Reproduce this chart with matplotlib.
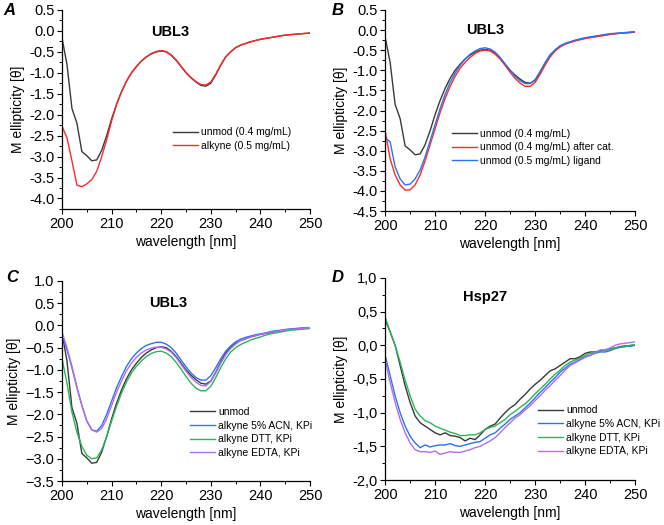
import numpy as np
import matplotlib
matplotlib.use("Agg")
import matplotlib.pyplot as plt
from matplotlib.ticker import MultipleLocator, FuncFormatter

plt.rcParams['font.family'] = ['Liberation Sans', 'DejaVu Sans']

wl = np.arange(200, 251)

# common tail 236..250 for UBL3 curves
tail = [-0.34, -0.30, -0.26, -0.23, -0.20, -0.18, -0.16, -0.14, -0.12, -0.10, -0.09, -0.08, -0.07, -0.06, -0.05]

# panel A / B / C : UBL3 unmodified (0.4 mg/mL)
ubl3_unmod = [-0.17, -0.80, -1.85, -2.20, -2.88, -2.98, -3.10, -3.08, -2.85, -2.50,
              -2.10, -1.75, -1.45, -1.20, -1.00, -0.85, -0.72, -0.62, -0.55, -0.50,
              -0.48, -0.50, -0.58, -0.70, -0.85, -1.00, -1.12, -1.22, -1.30, -1.32,
              -1.25, -1.05, -0.82, -0.62, -0.50, -0.40] + tail
# panel A : alkyne (0.5 mg/mL)
ubl3_alkyne = [-2.28, -2.55, -3.10, -3.68, -3.72, -3.65, -3.55, -3.35, -3.00, -2.60,
               -2.15, -1.76, -1.45, -1.20, -1.00, -0.85, -0.72, -0.62, -0.54, -0.49,
               -0.47, -0.49, -0.57, -0.69, -0.84, -0.99, -1.11, -1.21, -1.28, -1.29,
               -1.22, -1.03, -0.81, -0.62, -0.50, -0.40] + tail
# panel B
ubl3_aftercat = [-2.50, -3.20, -3.60, -3.85, -3.98, -3.97, -3.85, -3.60, -3.25, -2.85,
                 -2.45, -2.05, -1.70, -1.40, -1.15, -0.95, -0.80, -0.68, -0.58, -0.52,
                 -0.50, -0.52, -0.60, -0.72, -0.88, -1.05, -1.20, -1.32, -1.40, -1.40,
                 -1.30, -1.10, -0.87, -0.67, -0.52, -0.42,
                 -0.35, -0.31, -0.27, -0.24, -0.21, -0.19, -0.17, -0.15, -0.13, -0.11,
                 -0.09, -0.08, -0.07, -0.06, -0.05]
ubl3_ligand = [-2.68, -2.78, -3.40, -3.70, -3.85, -3.83, -3.70, -3.48, -3.15, -2.75,
               -2.35, -1.95, -1.60, -1.30, -1.07, -0.88, -0.72, -0.60, -0.52, -0.46,
               -0.44, -0.47, -0.55, -0.68, -0.84, -1.00, -1.15, -1.26, -1.33, -1.33,
               -1.23, -1.03, -0.81, -0.62, -0.49, -0.39,
               -0.33, -0.29, -0.25, -0.22, -0.19, -0.17, -0.15, -0.13, -0.11, -0.09,
               -0.08, -0.07, -0.06, -0.05, -0.04]
# panel C
ubl3_acn = [-0.20, -0.55, -0.95, -1.40, -1.80, -2.15, -2.35, -2.38, -2.25, -2.00,
            -1.70, -1.40, -1.15, -0.92, -0.75, -0.62, -0.52, -0.45, -0.41, -0.38,
            -0.38, -0.42, -0.50, -0.62, -0.78, -0.93, -1.07, -1.17, -1.23, -1.23,
            -1.13, -0.95, -0.75, -0.58, -0.46, -0.37,
            -0.31, -0.27, -0.24, -0.21, -0.19, -0.17, -0.14, -0.12, -0.11, -0.09,
            -0.08, -0.07, -0.06, -0.05, -0.05]
ubl3_dtt = [-0.75, -1.30, -1.95, -2.40, -2.72, -2.92, -3.00, -2.98, -2.80, -2.50,
            -2.15, -1.82, -1.52, -1.27, -1.07, -0.92, -0.80, -0.70, -0.63, -0.59,
            -0.58, -0.62, -0.70, -0.83, -0.98, -1.15, -1.30, -1.41, -1.47, -1.47,
            -1.37, -1.17, -0.95, -0.75, -0.60, -0.50,
            -0.43, -0.38, -0.33, -0.29, -0.26, -0.22, -0.19, -0.17, -0.15, -0.13,
            -0.11, -0.10, -0.09, -0.08, -0.07]
ubl3_edta = [-0.15, -0.50, -0.92, -1.38, -1.80, -2.15, -2.35, -2.40, -2.32, -2.10,
             -1.80, -1.50, -1.25, -1.02, -0.85, -0.72, -0.62, -0.55, -0.51, -0.49,
             -0.49, -0.53, -0.60, -0.72, -0.88, -1.03, -1.17, -1.28, -1.35, -1.36,
             -1.26, -1.07, -0.85, -0.66, -0.52, -0.42] + tail

# panel D : Hsp27
hsp_unmod = [0.38, 0.20, 0.00, -0.30, -0.60, -0.85, -1.05, -1.15, -1.20, -1.25,
             -1.30, -1.33, -1.30, -1.34, -1.35, -1.37, -1.42, -1.38, -1.40, -1.33,
             -1.25, -1.20, -1.17, -1.08, -1.00, -0.93, -0.88, -0.80, -0.73, -0.65,
             -0.58, -0.52, -0.45, -0.38, -0.35, -0.30, -0.25, -0.20, -0.20, -0.17,
             -0.12, -0.10, -0.10, -0.08, -0.07, -0.05, -0.04, -0.02, -0.01, -0.01, 0.00]
hsp_acn = [-0.15, -0.45, -0.75, -1.00, -1.20, -1.35, -1.45, -1.52, -1.48, -1.51,
           -1.49, -1.48, -1.48, -1.46, -1.49, -1.50, -1.48, -1.46, -1.44, -1.43,
           -1.38, -1.33, -1.30, -1.23, -1.17, -1.10, -1.05, -1.00, -0.93, -0.86,
           -0.78, -0.70, -0.63, -0.55, -0.48, -0.40, -0.34, -0.28, -0.25, -0.21,
           -0.17, -0.15, -0.12, -0.10, -0.10, -0.08, -0.05, -0.03, -0.02, -0.01, 0.00]
hsp_dtt = [0.42, 0.20, 0.00, -0.25, -0.52, -0.75, -0.95, -1.05, -1.12, -1.15,
           -1.20, -1.23, -1.26, -1.29, -1.31, -1.34, -1.34, -1.33, -1.33, -1.30,
           -1.25, -1.22, -1.20, -1.15, -1.10, -1.03, -0.98, -0.92, -0.87, -0.80,
           -0.72, -0.65, -0.58, -0.50, -0.43, -0.37, -0.30, -0.25, -0.22, -0.19,
           -0.15, -0.12, -0.11, -0.09, -0.08, -0.06, -0.04, -0.03, -0.02, 0.00, 0.01]
hsp_edta = [-0.22, -0.55, -0.85, -1.10, -1.30, -1.45, -1.55, -1.58, -1.58, -1.59,
            -1.57, -1.62, -1.60, -1.58, -1.59, -1.59, -1.57, -1.55, -1.52, -1.50,
            -1.46, -1.42, -1.37, -1.30, -1.22, -1.15, -1.08, -1.03, -0.96, -0.90,
            -0.82, -0.75, -0.67, -0.60, -0.52, -0.45, -0.37, -0.30, -0.26, -0.22,
            -0.18, -0.15, -0.11, -0.07, -0.07, -0.04, 0.00, 0.02, 0.03, 0.04, 0.05]

BLACK = '#3a3a3a'
RED = '#ff2a2a'
BLUE = '#2a74f0'
GREEN = '#2bb55a'
PURPLE = '#b46cf2'

fig = plt.figure(figsize=(6.64, 5.25), dpi=100)


def setup(ax, ylim, major, fmt):
    ax.set_xlim(200, 250)
    ax.set_ylim(*ylim)
    ax.spines['top'].set_visible(False)
    ax.spines['right'].set_visible(False)
    for s in ('left', 'bottom'):
        ax.spines[s].set_linewidth(0.9)
    ax.xaxis.set_major_locator(MultipleLocator(10))
    ax.xaxis.set_minor_locator(MultipleLocator(5))
    ax.yaxis.set_major_locator(MultipleLocator(major))
    ax.yaxis.set_minor_locator(MultipleLocator(major / 2))
    ax.yaxis.set_major_formatter(FuncFormatter(fmt))
    ax.tick_params(which='major', length=3.5, width=0.8, labelsize=10.5, pad=2)
    ax.tick_params(which='minor', length=2, width=0.7)
    ax.set_xlabel('wavelength [nm]', fontsize=10, labelpad=3)
    ax.set_ylabel('M ellipticity [θ]', fontsize=10, labelpad=3)


def dot(v, pos):
    return '%.1f' % v


def dot_minus(v, pos):
    return ('%.1f' % v).replace('-', '\u2212')


def comma(v, pos):
    return ('%.1f' % v).replace('.', ',')


legkw = dict(frameon=False, fontsize=7.5, handlelength=2.4, handletextpad=0.3,
             borderpad=0, borderaxespad=0, labelspacing=0.35)

# A
axA = fig.add_axes([0.0934, 0.602, 0.3735, 0.379])
axA.plot(wl, ubl3_unmod, color=BLACK, lw=1.0, label='unmod (0.4 mg/mL)')
axA.plot(wl, ubl3_alkyne, color=RED, lw=1.0, label='alkyne (0.5 mg/mL)')
setup(axA, (-4.25, 0.5), 0.5, dot)
axA.text(0.435, 0.89, 'UBL3', transform=axA.transAxes, ha='center', va='center',
         fontsize=10.5, fontweight='bold')
axA.legend(loc='upper left', bbox_to_anchor=(0.448, 0.41), **legkw)

# B
axB = fig.add_axes([0.580, 0.598, 0.3765, 0.383])
axB.plot(wl, ubl3_unmod, color=BLACK, lw=1.0, label='unmod (0.4 mg/mL)')
axB.plot(wl, ubl3_aftercat, color=RED, lw=1.0, label='unmod (0.4 mg/mL) after cat.')
axB.plot(wl, ubl3_ligand, color=BLUE, lw=1.0, label='unmod (0.5 mg/mL) ligand')
setup(axB, (-4.5, 0.5), 0.5, dot)
axB.text(0.40, 0.90, 'UBL3', transform=axB.transAxes, ha='center', va='center',
         fontsize=10.5, fontweight='bold')
axB.legend(loc='upper left', bbox_to_anchor=(0.268, 0.41), **legkw)

# C
axC = fig.add_axes([0.0934, 0.0838, 0.3735, 0.381])
axC.plot(wl, ubl3_unmod, color=BLACK, lw=1.0, label='unmod')
axC.plot(wl, ubl3_acn, color=BLUE, lw=1.0, label='alkyne 5% ACN, KPi')
axC.plot(wl, ubl3_dtt, color=GREEN, lw=1.0, label='alkyne DTT, KPi')
axC.plot(wl, ubl3_edta, color=PURPLE, lw=1.0, label='alkyne EDTA, KPi')
setup(axC, (-3.5, 1.0), 0.5, dot_minus)
axC.text(0.43, 0.89, 'UBL3', transform=axC.transAxes, ha='center', va='center',
         fontsize=10.5, fontweight='bold')
axC.legend(loc='upper left', bbox_to_anchor=(0.516, 0.37), **legkw)

# D
axD = fig.add_axes([0.580, 0.0857, 0.3765, 0.385])
axD.plot(wl, hsp_unmod, color=BLACK, lw=1.0, label='unmod')
axD.plot(wl, hsp_acn, color=BLUE, lw=1.0, label='alkyne 5% ACN, KPi')
axD.plot(wl, hsp_dtt, color=GREEN, lw=1.0, label='alkyne DTT, KPi')
axD.plot(wl, hsp_edta, color=PURPLE, lw=1.0, label='alkyne EDTA, KPi')
setup(axD, (-2.0, 1.0), 0.5, comma)
axD.text(0.40, 0.906, 'Hsp27', transform=axD.transAxes, ha='center', va='center',
         fontsize=10.5, fontweight='bold')
axD.legend(loc='upper left', bbox_to_anchor=(0.612, 0.37), **legkw)

for lab, x, y in (('A', 0.005, 0.995), ('B', 0.500, 0.995), ('C', 0.010, 0.485), ('D', 0.500, 0.485)):
    fig.text(x, y, lab, fontsize=12, fontweight='bold', fontstyle='italic',
             ha='left', va='top')

fig.savefig('out.png', dpi=100)
